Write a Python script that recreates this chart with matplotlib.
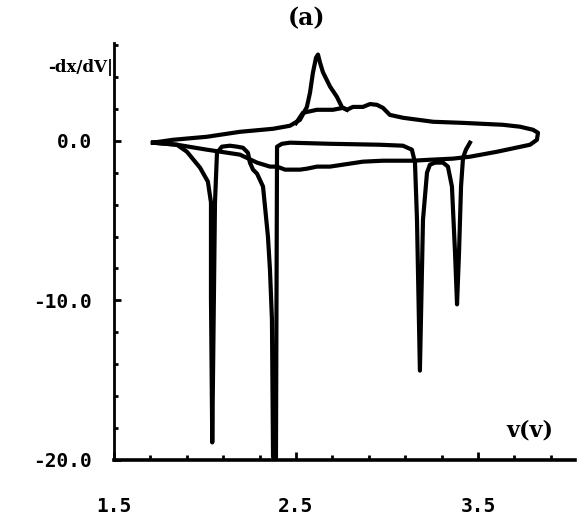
import numpy as np
import matplotlib.pyplot as plt

# Charge branch (with the sharp peak near 2.6 V) and the return branch back to 1.7 V
loop_v = [1.714, 1.824, 2.011, 2.192, 2.374, 2.467, 2.522, 2.560, 2.577, 2.593,
          2.610, 2.621, 2.632, 2.648, 2.687, 2.725, 2.753, 2.780, 2.813, 2.868,
          2.907, 2.945, 2.978, 3.016, 3.088, 3.253, 3.418, 3.637, 3.731, 3.802,
          3.830, 3.824, 3.786, 3.604, 3.456, 3.363, 3.236, 3.143, 2.978, 2.868,
          2.687, 2.615, 2.560, 2.522, 2.440, 2.396, 2.357, 2.286, 2.192, 2.011,
          1.846, 1.714]
loop_d = [-0.12, 0.06, 0.25, 0.56, 0.75, 0.94, 1.31, 2.12, 3.0, 4.25,
          5.2, 5.4, 4.9, 4.3, 3.4, 2.75, 2.1, 1.94, 2.12, 2.12,
          2.3, 2.25, 2.06, 1.62, 1.44, 1.19, 1.12, 1.0, 0.88, 0.69,
          0.5, 0.06, -0.25, -0.69, -1.0, -1.12, -1.19, -1.25, -1.25, -1.31,
          -1.62, -1.62, -1.75, -1.81, -1.81, -1.62, -1.62, -1.37, -0.87, -0.56,
          -0.25, -0.12]

# Second charge trace, which skips the peak
charge2_v = [2.500, 2.538, 2.615, 2.703, 2.758, 2.780]
charge2_d = [1.10, 1.75, 1.94, 1.94, 2.06, 1.94]

# Discharge trace with the deep minima
dis_v = [3.456, 3.434, 3.418, 3.407, 3.396, 3.385, 3.374, 3.357, 3.335, 3.308,
         3.264, 3.236, 3.220, 3.198, 3.181, 3.165, 3.154, 3.137, 3.088, 2.962,
         2.687, 2.467, 2.423, 2.396, 2.390, 2.374, 2.368, 2.357, 2.346, 2.319,
         2.286, 2.264, 2.247, 2.236, 2.209, 2.176, 2.137, 2.093, 2.066, 2.055,
         2.040, 2.033, 2.033, 2.016, 1.973, 1.901, 1.846, 1.714]
dis_d = [-0.12, -0.56, -1.06, -2.87, -7.0, -10.25, -7.0, -2.87, -1.62, -1.37,
         -1.37, -1.5, -2.0, -4.94, -14.4, -4.94, -1.37, -0.56, -0.31, -0.25,
         -0.19, -0.12, -0.19, -0.37, -20.0, -19.8, -11.2, -8.06, -6.0, -2.87,
         -2.06, -1.81, -1.37, -0.75, -0.44, -0.37, -0.31, -0.37, -0.75, -3.87,
         -18.9, -9.9, -3.87, -2.56, -1.69, -0.69, -0.25, -0.12]

x_major = [1.5, 2.5, 3.5]
x_labels = ["1.5", "2.5", "3.5"]
y_major = [0, -10, -20]
y_labels = ["0.0", "-10.0", "-20.0"]

fig = plt.figure(figsize=(5.83, 5.19), dpi=100)
ax = fig.add_axes([0.1955, 0.1137, 0.7907, 0.8027])

lw = 3.0
ax.plot(loop_v, loop_d, color="black", lw=lw, solid_joinstyle="round")
ax.plot(charge2_v, charge2_d, color="black", lw=lw, solid_joinstyle="round")
ax.plot(dis_v, dis_d, color="black", lw=lw, solid_joinstyle="round")

ax.set_xlim(1.5, 4.033)
ax.set_ylim(-20, 6.1)

for side in ["top", "right"]:
    ax.spines[side].set_visible(False)
ax.spines["left"].set_linewidth(2.0)
ax.spines["bottom"].set_linewidth(2.6)

mono = {"family": "DejaVu Sans Mono", "weight": "bold", "size": 14}
ax.set_xticks(x_major)
ax.set_xticklabels(x_labels, fontdict=mono)
ax.set_xticks(np.arange(1.7, 4.0, 0.2), minor=True)
ax.set_yticks(y_major)
ax.set_yticklabels(y_labels, fontdict=mono)
ax.set_yticks(np.arange(-18, 7, 2), minor=True)

ax.tick_params(axis="x", which="major", direction="in", length=6, width=2, pad=27)
ax.tick_params(axis="x", which="minor", direction="in", length=3.5, width=2)
ax.tick_params(axis="y", which="major", direction="in", length=5, width=2, pad=16)
ax.tick_params(axis="y", which="minor", direction="in", length=3, width=2)

fig.text(307 / 583, 1 - 18 / 519, "(a)", ha="center", va="center",
         family="DejaVu Serif", weight="bold", fontsize=17)
fig.text(530 / 583, 1 - 431 / 519, "v(v)", ha="center", va="center",
         family="DejaVu Serif", weight="bold", fontsize=16)
fig.text(113 / 583, 1 - 67 / 519, "-dx/dV|", ha="right", va="center",
         family="DejaVu Serif", weight="bold", fontsize=12)

fig.savefig("out.png", dpi=100)
